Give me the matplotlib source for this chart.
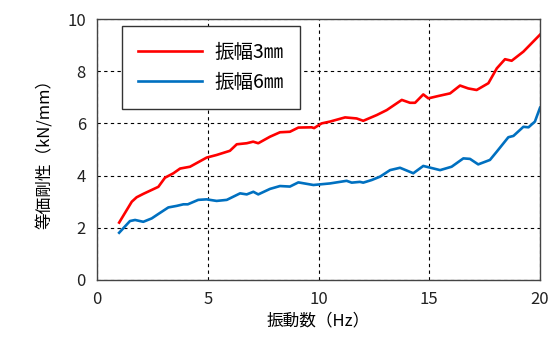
import numpy as np
import matplotlib.pyplot as plt

plt.rcParams['font.family'] = ['Noto Sans CJK JP', 'DejaVu Sans']

# 振幅3mm
f3 = [1.0, 1.57, 1.79, 2.09, 2.77, 3.07, 3.45, 3.75, 4.2, 4.95, 5.4, 6.0, 6.31, 6.76,
      7.05, 7.28, 7.81, 8.26, 8.71, 9.09, 9.69, 9.8, 10.14, 10.52, 11.2, 11.72, 12.02,
      12.63, 13.08, 13.76, 14.13, 14.36, 14.73, 14.96, 15.41, 15.94, 16.39, 16.76,
      17.14, 17.67, 18.05, 18.42, 18.72, 19.25, 20.0]
k3 = [2.2, 3.0, 3.17, 3.3, 3.57, 3.92, 4.09, 4.27, 4.34, 4.69, 4.79, 4.95, 5.2, 5.24,
      5.3, 5.24, 5.49, 5.66, 5.68, 5.84, 5.85, 5.82, 6.0, 6.07, 6.23, 6.19, 6.1,
      6.32, 6.51, 6.9, 6.79, 6.79, 7.11, 6.96, 7.05, 7.15, 7.45, 7.34,
      7.28, 7.54, 8.11, 8.46, 8.4, 8.75, 9.4]

# 振幅6mm
f6 = [1.0, 1.49, 1.72, 2.09, 2.47, 2.77, 3.22, 3.6, 3.9, 4.1, 4.57, 4.95, 5.4, 5.86,
      6.46, 6.76, 7.06, 7.28, 7.81, 8.26, 8.71, 9.09, 9.77, 10.52, 11.27, 11.5, 11.87,
      12.02, 12.4, 12.78, 13.23, 13.68, 14.28, 14.73, 15.49, 16.01, 16.54, 16.84,
      17.21, 17.74, 18.05, 18.57, 18.8, 19.25, 19.48, 19.77, 20.0]
k6 = [1.81, 2.26, 2.3, 2.23, 2.36, 2.53, 2.78, 2.84, 2.9, 2.9, 3.07, 3.09, 3.03, 3.07,
      3.32, 3.28, 3.38, 3.28, 3.49, 3.6, 3.58, 3.74, 3.64, 3.7, 3.8, 3.73, 3.76,
      3.73, 3.83, 3.96, 4.21, 4.3, 4.09, 4.37, 4.21, 4.34, 4.66, 4.64,
      4.43, 4.6, 4.92, 5.47, 5.52, 5.87, 5.85, 6.07, 6.6]

xticks = [0, 5, 10, 15, 20]
yticks = [0, 2, 4, 6, 8, 10]

fig = plt.figure(figsize=(5.53, 3.5), dpi=100)
ax = fig.add_axes([0.1754, 0.2, 0.8011, 0.7457])

ax.plot(f3, k3, color='#FF0000', lw=1.9, label='振幅3㎜')
ax.plot(f6, k6, color='#0070C0', lw=1.9, label='振幅6㎜')

ax.set_xlim(0, 20)
ax.set_ylim(0, 10)
ax.set_xticks(xticks)
ax.set_yticks(yticks)
ax.tick_params(length=0, labelsize=12, pad=8, colors='#222222')
ax.grid(True, color='black', ls=(0, (3, 3)), lw=0.8)
for s in ax.spines.values():
    s.set_color('#444444')
    s.set_linewidth(1.0)

ax.set_xlabel('振動数（Hz）', fontsize=12, labelpad=3)
ax.set_ylabel('等価剛性（kN/mm）', fontsize=12, labelpad=10)

leg = ax.legend(loc='upper left', bbox_to_anchor=(0.056, 0.975), fontsize=14,
                frameon=True, fancybox=False, edgecolor='#333333', framealpha=1,
                handlelength=3.3, handletextpad=0.6, borderpad=0.85, labelspacing=0.45,
                borderaxespad=0)
leg.get_frame().set_linewidth(1.0)

fig.savefig('out.png', dpi=100)
